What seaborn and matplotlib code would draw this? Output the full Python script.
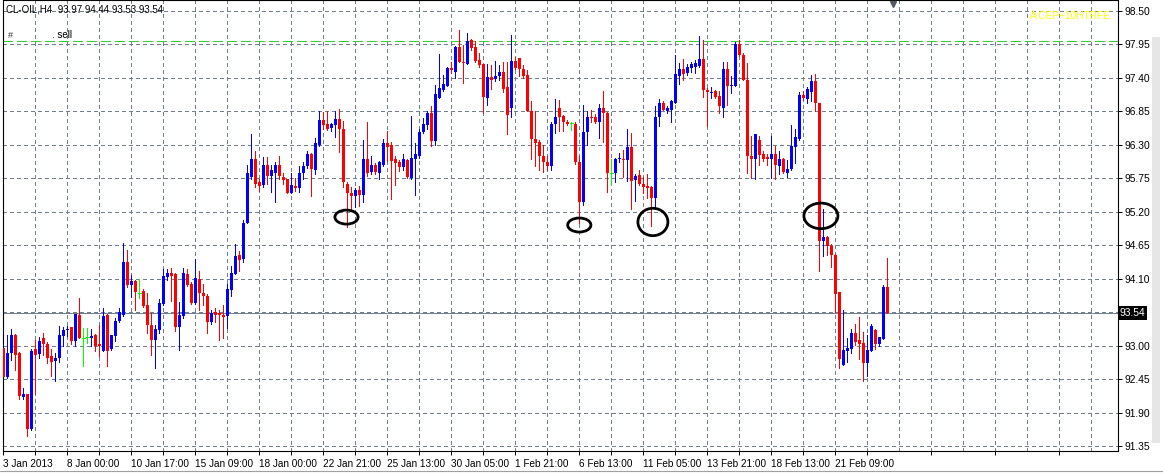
import numpy as np
import pandas as pd
import matplotlib
matplotlib.use("Agg")
import matplotlib.pyplot as plt
import matplotlib.transforms as mtransforms
from matplotlib.patches import Ellipse, Rectangle
from matplotlib.lines import Line2D
import seaborn as sns

# ---------------- data (CL-OIL, H4) ----------------
opens = [
    92.96, 92.48, 92.87, 93.18, 92.87, 92.15, 92.20, 91.63, 92.94, 92.86,
    93.13, 93.03, 92.83, 92.75, 92.79, 93.15, 93.25, 93.30, 93.07, 93.51,
    93.13, 93.14, 93.12, 93.17, 93.02, 92.91, 93.51, 92.94, 93.15, 93.40,
    93.51, 94.38, 93.99, 94.06, 93.87, 93.89, 93.66, 93.34, 93.09, 93.25,
    93.69, 94.12, 94.20, 94.18, 93.30, 93.49, 94.18, 94.01, 93.70, 94.10,
    93.87, 93.81, 93.38, 93.55, 93.53, 93.51, 93.49, 93.92, 94.18, 94.49,
    94.42, 95.01, 95.77, 96.06, 95.69, 95.64, 95.97, 95.78, 95.84, 95.96,
    95.77, 95.74, 95.51, 95.62, 95.58, 95.83, 95.95, 96.15, 95.89, 96.29,
    96.71, 96.64, 96.57, 96.62, 96.72, 96.55, 95.66, 95.51, 95.45, 95.55,
    95.47, 96.07, 95.85, 95.96, 95.84, 95.96, 96.32, 96.29, 96.06, 96.01,
    95.93, 96.04, 95.76, 96.07, 96.11, 96.51, 96.63, 96.82, 96.36, 97.07,
    97.20, 97.27, 97.56, 97.50, 97.90, 97.66, 97.62, 98.02, 97.91, 97.69,
    97.62, 97.07, 97.41, 97.38, 97.42, 97.50, 97.24, 96.91, 97.67, 97.72,
    97.54, 97.44, 96.86, 96.40, 96.35, 96.11, 96.01, 95.95, 96.64, 96.90,
    96.77, 96.67, 96.66, 96.64, 96.01, 95.35, 96.51, 96.75, 96.75, 96.68,
    96.90, 96.82, 95.84, 95.84, 96.06, 96.07, 96.05, 96.26, 95.72, 95.80,
    95.66, 95.62, 95.60, 95.42, 96.75, 96.99, 96.86, 96.87, 96.99, 97.43,
    97.54, 97.47, 97.56, 97.57, 97.60, 97.71, 97.20, 97.15, 97.18, 97.10,
    96.91, 97.55, 97.27, 97.27, 97.95, 97.78, 97.37, 96.11, 96.06, 96.38,
    96.14, 96.10, 96.06, 96.15, 95.95, 96.06, 95.84, 95.90, 96.26, 96.40,
    97.11, 97.05, 97.16, 97.35, 96.99, 94.71, 94.79, 94.64, 94.48, 93.88,
    92.68, 92.91, 92.95, 93.21, 93.09, 93.04, 92.72, 92.91, 93.26, 93.02,
    93.11, 93.97,
]
highs = [
    93.00, 93.17, 93.28, 93.19, 92.90, 92.31, 92.21, 92.94, 93.09, 93.14,
    93.21, 93.06, 92.94, 92.87, 93.32, 93.31, 93.32, 93.31, 93.52, 93.78,
    93.29, 93.29, 93.28, 93.19, 93.33, 93.62, 93.52, 93.18, 93.46, 93.61,
    94.68, 94.57, 94.16, 94.07, 94.10, 93.93, 93.87, 93.54, 93.34, 93.76,
    94.26, 94.26, 94.27, 94.19, 93.71, 94.27, 94.25, 94.04, 94.42, 94.22,
    94.01, 93.84, 93.58, 93.61, 93.59, 93.67, 94.01, 94.31, 94.67, 94.56,
    95.06, 95.96, 96.48, 96.19, 95.74, 96.10, 96.10, 95.96, 96.01, 96.11,
    95.83, 95.74, 95.83, 95.76, 95.95, 96.01, 96.19, 96.16, 96.41, 96.86,
    96.83, 96.85, 96.66, 96.86, 96.88, 96.69, 95.69, 95.60, 95.59, 95.62,
    96.37, 96.67, 96.11, 96.00, 96.03, 96.40, 96.53, 96.34, 96.12, 96.04,
    96.15, 96.07, 96.77, 96.33, 96.56, 96.73, 96.86, 96.94, 97.28, 97.79,
    97.44, 97.58, 97.65, 97.92, 98.18, 97.93, 98.13, 98.03, 98.00, 97.81,
    97.62, 97.62, 97.61, 97.67, 97.61, 97.65, 97.66, 98.10, 97.74, 97.72,
    97.61, 97.52, 97.01, 96.86, 96.38, 96.30, 96.12, 96.67, 97.05, 97.04,
    96.79, 96.70, 96.68, 96.67, 96.11, 96.95, 96.86, 96.87, 96.80, 96.97,
    97.18, 96.83, 96.07, 96.08, 96.17, 96.22, 96.55, 96.49, 95.82, 95.89,
    95.77, 95.82, 95.62, 96.93, 97.05, 97.01, 96.93, 97.03, 97.77, 97.64,
    97.70, 97.62, 97.65, 97.69, 98.08, 98.02, 97.23, 97.25, 97.20, 97.18,
    97.65, 97.65, 97.42, 97.99, 98.02, 97.80, 97.64, 96.45, 96.48, 96.45,
    96.20, 96.14, 96.45, 96.28, 96.19, 96.08, 96.05, 96.63, 96.55, 97.17,
    97.18, 97.24, 97.44, 97.46, 96.99, 95.25, 94.80, 94.67, 94.50, 93.88,
    93.59, 93.13, 93.28, 93.36, 93.47, 93.22, 93.18, 93.36, 93.28, 93.14,
    93.99, 94.44,
]
lows = [
    92.47, 92.47, 92.76, 92.60, 92.13, 92.12, 91.52, 91.62, 92.20, 92.79,
    92.85, 92.72, 92.50, 92.42, 92.73, 92.99, 93.15, 93.03, 92.99, 93.12,
    92.66, 93.04, 93.00, 92.91, 92.83, 92.91, 92.66, 92.93, 93.07, 93.38,
    93.49, 93.96, 93.80, 93.58, 93.78, 93.63, 93.21, 92.85, 92.63, 93.20,
    93.66, 94.08, 93.74, 93.24, 92.92, 93.45, 93.98, 93.69, 93.69, 93.58,
    93.66, 93.20, 93.35, 93.39, 93.09, 93.12, 93.29, 93.82, 94.18, 94.23,
    94.38, 95.01, 95.74, 95.61, 95.54, 95.61, 95.65, 95.52, 95.35, 95.74,
    95.65, 95.50, 95.50, 95.54, 95.53, 95.74, 95.92, 95.46, 95.81, 96.27,
    96.55, 96.54, 96.52, 96.43, 96.18, 95.60, 94.94, 95.24, 95.28, 95.29,
    95.35, 95.79, 95.82, 95.81, 95.74, 95.95, 96.03, 95.40, 95.63, 95.87,
    95.89, 95.76, 95.73, 95.47, 96.08, 96.49, 96.56, 96.27, 96.30, 97.06,
    97.18, 97.27, 97.47, 97.40, 97.65, 97.32, 97.62, 97.86, 97.65, 97.57,
    96.82, 96.95, 97.22, 97.34, 97.36, 97.16, 96.48, 96.76, 97.55, 97.43,
    97.39, 96.85, 96.06, 95.95, 95.88, 95.85, 95.89, 95.88, 96.49, 96.52,
    96.52, 96.63, 96.54, 95.99, 95.02, 95.31, 96.30, 96.67, 96.66, 96.41,
    96.34, 95.52, 95.64, 95.69, 96.01, 95.77, 95.70, 95.24, 95.38, 95.64,
    95.50, 95.42, 94.96, 95.27, 96.60, 96.87, 96.82, 96.67, 96.99, 97.30,
    97.36, 97.44, 97.50, 97.48, 97.58, 97.09, 96.60, 97.06, 97.06, 96.82,
    96.75, 96.95, 97.15, 97.27, 97.76, 97.36, 95.83, 95.76, 95.73, 95.96,
    96.03, 95.96, 95.76, 95.73, 95.82, 95.83, 95.77, 95.88, 96.00, 96.38,
    97.04, 96.98, 97.01, 96.85, 94.23, 94.47, 94.48, 94.29, 93.55, 92.63,
    92.68, 92.73, 92.87, 93.01, 92.78, 92.42, 92.50, 92.91, 92.94, 93.00,
    93.10, 93.53,
]
closes = [
    92.49, 92.87, 93.17, 92.85, 92.17, 92.20, 91.63, 92.91, 92.84, 93.07,
    93.02, 92.79, 92.73, 92.79, 93.17, 93.26, 93.28, 93.07, 93.52, 93.13,
    93.13, 93.14, 93.16, 93.00, 92.99, 93.48, 92.91, 93.17, 93.40, 93.55,
    94.38, 93.99, 94.06, 93.88, 93.87, 93.65, 93.34, 93.09, 93.28, 93.70,
    94.14, 94.19, 94.15, 93.30, 93.51, 94.19, 94.00, 93.70, 94.11, 93.86,
    93.81, 93.38, 93.54, 93.51, 93.50, 93.47, 93.93, 94.20, 94.47, 94.41,
    95.02, 95.84, 96.06, 95.65, 95.62, 95.97, 95.79, 95.88, 95.97, 95.78,
    95.72, 95.51, 95.63, 95.58, 95.83, 95.95, 96.15, 95.90, 96.33, 96.70,
    96.63, 96.56, 96.64, 96.72, 96.55, 95.69, 95.51, 95.46, 95.55, 95.47,
    96.06, 95.83, 95.96, 95.85, 96.01, 96.32, 96.26, 96.03, 96.00, 95.94,
    96.06, 95.77, 96.08, 96.15, 96.51, 96.64, 96.82, 96.36, 97.14, 97.23,
    97.30, 97.56, 97.52, 97.90, 97.66, 97.64, 98.00, 97.88, 97.67, 97.61,
    97.09, 97.41, 97.37, 97.43, 97.50, 97.22, 96.79, 97.67, 97.56, 97.54,
    97.43, 96.86, 96.40, 96.33, 96.11, 96.02, 95.95, 96.64, 96.75, 96.75,
    96.67, 96.64, 96.66, 96.01, 95.36, 96.51, 96.75, 96.73, 96.67, 96.90,
    96.82, 95.84, 95.84, 96.06, 96.08, 96.05, 96.26, 95.70, 95.78, 95.66,
    95.60, 95.58, 95.42, 96.75, 96.99, 96.87, 96.90, 97.01, 97.46, 97.54,
    97.46, 97.58, 97.62, 97.64, 97.71, 97.20, 97.16, 97.17, 97.09, 96.93,
    97.54, 97.27, 97.28, 97.96, 97.78, 97.37, 96.11, 96.06, 96.48, 96.13,
    96.07, 96.06, 96.15, 95.96, 96.07, 95.85, 95.90, 96.27, 96.42, 97.11,
    97.06, 97.22, 97.35, 96.98, 94.71, 94.79, 94.64, 94.48, 93.85, 92.78,
    92.92, 92.96, 93.21, 93.06, 93.02, 92.72, 92.92, 93.32, 93.03, 93.14,
    93.97, 93.54,
]

x_tick_labels = ["3 Jan 2013", "8 Jan 00:00", "10 Jan 17:00", "15 Jan 09:00",
                 "18 Jan 00:00", "22 Jan 21:00", "25 Jan 13:00", "30 Jan 05:00",
                 "1 Feb 21:00", "6 Feb 13:00", "11 Feb 05:00", "13 Feb 21:00",
                 "18 Feb 13:00", "21 Feb 09:00"]
y_tick_values = [98.50, 97.95, 97.40, 96.85, 96.30, 95.75, 95.20, 94.65, 94.10,
                 93.00, 92.45, 91.90, 91.35]
y_grid_values = [98.50, 97.95, 97.40, 96.85, 96.30, 95.75, 95.20, 94.65, 94.10,
                 93.55, 93.00, 92.45, 91.90, 91.35]
last_price = 93.54
order_price = 98.00
symbol_title = "CL-OIL,H4  93.97 94.44 93.53 93.54"
# hand-drawn ellipses: (bar index, price, width in bars, height in price)
ellipse_x = [85.8, 144.0, 162.4, 204.4]
ellipse_y = [95.11, 94.98, 95.03, 95.13]
ellipse_w = [5.8, 5.8, 7.5, 8.5]
ellipse_h = [0.23, 0.23, 0.45, 0.42]

# ---------------- styling ----------------
sns.set_theme(style="white")
plt.rcParams["font.family"] = ["Liberation Sans", "DejaVu Sans"]
plt.rcParams["lines.scale_dashes"] = False

W, H = 1163, 473
fig = plt.figure(figsize=(W / 100, H / 100), dpi=100)
fig.patch.set_facecolor("white")

ax_l, ax_r, ax_t, ax_b = 2.5, 1117.5, 0.5, 451.0
ax = fig.add_axes([ax_l / W, 1 - ax_b / H, (ax_r - ax_l) / W, (ax_b - ax_t) / H])
ax.set_facecolor("white")

df = pd.DataFrame({"open": opens, "high": highs, "low": lows, "close": closes})
df["idx"] = np.arange(len(df))
df["kind"] = np.where(df["close"] > df["open"], "up",
                      np.where(df["close"] < df["open"], "down", "doji"))
palette = {"up": "#0000ff", "down": "#ff0000", "doji": "#00ff00"}

ax.set_xlim(-0.2, 278.55)
ax.set_ylim(91.268, 98.668)

grid_c = "#708090"
dash = (0, (2.2, 2.2))
for yv in y_grid_values:
    ax.axhline(yv, color=grid_c, lw=0.7, ls=dash, zorder=0.5, antialiased=False)
for xv in range(8, 279, 8):
    ax.axvline(xv, color=grid_c, lw=0.7, ls=dash, zorder=0.5, antialiased=False)

# current price line
ax.axhline(last_price, color=grid_c, lw=0.7, zorder=0.6, antialiased=False)
# order line
ax.axhline(order_price, color="#32cd32", lw=1.0, ls=(0, (7, 3.5)), zorder=0.7,
           antialiased=False)

# candles
colors = df["kind"].map(palette)
ax.vlines(df["idx"], df["low"], df["high"], colors=colors, lw=0.7,
          zorder=2, antialiased=False)
body = df[df["kind"] != "doji"]
bot = np.minimum(body["open"], body["close"])
hgt = np.maximum((body["open"] - body["close"]).abs(), 0.017)
ax.bar(body["idx"], hgt, bottom=bot, width=0.7,
       color=body["kind"].map(palette), linewidth=0, zorder=3, antialiased=False)
dj = df[df["kind"] == "doji"]
ax.hlines(dj["open"], dj["idx"] - 0.4, dj["idx"] + 0.4, colors=palette["doji"],
          lw=0.7, zorder=3, antialiased=False)

# ellipses
for ex, ey, ew, eh in zip(ellipse_x, ellipse_y, ellipse_w, ellipse_h):
    ax.add_patch(Ellipse((ex, ey), ew, eh, fill=False, ec="black", lw=2.0, zorder=5))

# axes / ticks
for s in ax.spines.values():
    s.set_color("black")
    s.set_linewidth(0.8)
ax.yaxis.tick_right()
ax.set_yticks(y_tick_values)
ax.set_yticklabels([f"{v:.2f}" for v in y_tick_values])
ax.tick_params(axis="y", right=True, left=False, direction="out", length=3,
               width=0.7, pad=2, labelsize=7.4, colors="black")
major_x = list(range(0, 16 * len(x_tick_labels), 16))
ax.set_xticks(major_x)
ax.set_xticklabels(x_tick_labels, ha="left")
ax.set_xticks(list(range(8, 279, 16)), minor=True)
ax.tick_params(axis="x", which="both", bottom=True, direction="out", length=3,
               width=0.7, pad=2.5, labelsize=7.2, colors="black")
ax.grid(False)

# last-price tag on the price scale
ax.text(1.0 + 2.5 / (ax_r - ax_l), last_price, f"{last_price:.2f}",
        transform=mtransforms.blended_transform_factory(ax.transAxes, ax.transData),
        ha="left", va="center", fontsize=7.4, color="white",
        bbox=dict(boxstyle="square,pad=0.18", fc="black", ec="none"))

# chart-shift marker
ax.plot([222.4], [0.993], marker="v", ms=4.5, color="#505860", mec="#505860",
        transform=mtransforms.blended_transform_factory(ax.transData, ax.transAxes),
        clip_on=False, zorder=6)

# texts
fig.text(6 / W, 1 - 10 / H, symbol_title, fontsize=7.0, color="black",
         ha="left", va="center")
fig.text(8 / W, 1 - 35 / H, "#", fontsize=6.5, color="#333333", ha="left", va="center")
fig.text(52 / W, 1 - 35 / H, ". sell", fontsize=7.0, color="black", ha="left", va="center")
fig.text(1111 / W, 1 - 16 / H, "A:CEP+10HTRFE", fontsize=7.2, color="#ffff00",
         ha="right", va="center")

# window decorations
fig.add_artist(Rectangle((1152 / W, 1 - 443 / H), 8 / W, 406 / H,
                         transform=fig.transFigure, fc="#e6e6e6", ec="none"))
fig.add_artist(Line2D([0, 1], [1 - 471 / H, 1 - 471 / H], transform=fig.transFigure,
                      color="#a0a0a0", lw=0.8))

fig.savefig("out.png", dpi=100)
